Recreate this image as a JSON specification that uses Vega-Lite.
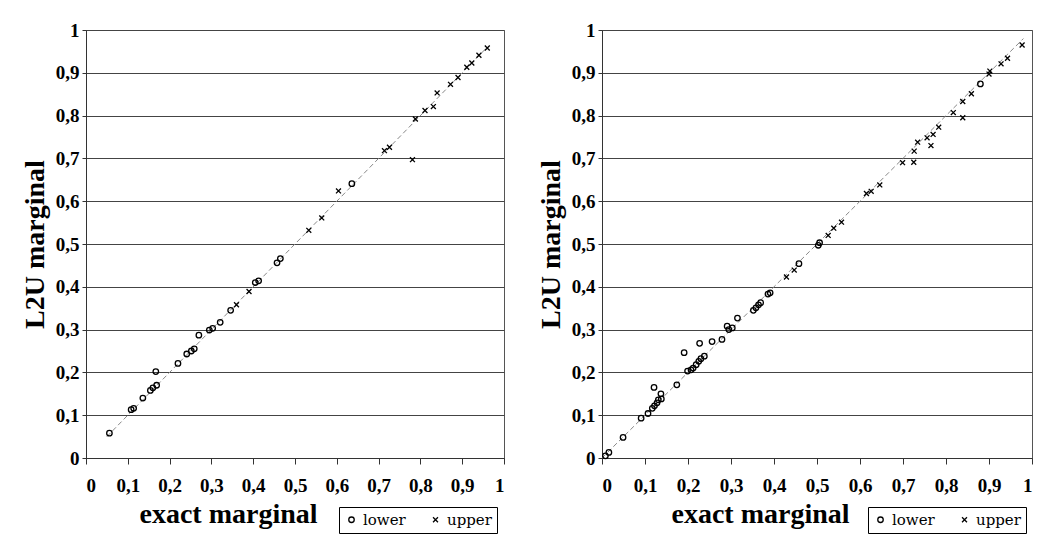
{
  "$schema": "https://vega.github.io/schema/vega-lite/v6.json",
  "background": "white",
  "padding": {"left": 20, "top": 20, "right": 2, "bottom": 2},
  "spacing": 98,
  "bounds": "flush",
  "datasets": {
    "pts": [
      {"p": "L", "x": 0.056, "y": 0.058, "b": "lower"},
      {"p": "L", "x": 0.108, "y": 0.113, "b": "lower"},
      {"p": "L", "x": 0.114, "y": 0.116, "b": "lower"},
      {"p": "L", "x": 0.136, "y": 0.140, "b": "lower"},
      {"p": "L", "x": 0.154, "y": 0.158, "b": "lower"},
      {"p": "L", "x": 0.160, "y": 0.164, "b": "lower"},
      {"p": "L", "x": 0.169, "y": 0.170, "b": "lower"},
      {"p": "L", "x": 0.167, "y": 0.202, "b": "lower"},
      {"p": "L", "x": 0.220, "y": 0.221, "b": "lower"},
      {"p": "L", "x": 0.241, "y": 0.243, "b": "lower"},
      {"p": "L", "x": 0.252, "y": 0.250, "b": "lower"},
      {"p": "L", "x": 0.259, "y": 0.255, "b": "lower"},
      {"p": "L", "x": 0.270, "y": 0.287, "b": "lower"},
      {"p": "L", "x": 0.295, "y": 0.299, "b": "lower"},
      {"p": "L", "x": 0.303, "y": 0.303, "b": "lower"},
      {"p": "L", "x": 0.321, "y": 0.317, "b": "lower"},
      {"p": "L", "x": 0.346, "y": 0.345, "b": "lower"},
      {"p": "L", "x": 0.405, "y": 0.410, "b": "lower"},
      {"p": "L", "x": 0.413, "y": 0.414, "b": "lower"},
      {"p": "L", "x": 0.457, "y": 0.456, "b": "lower"},
      {"p": "L", "x": 0.465, "y": 0.466, "b": "lower"},
      {"p": "L", "x": 0.636, "y": 0.641, "b": "lower"},
      {"p": "L", "x": 0.360, "y": 0.358, "b": "upper"},
      {"p": "L", "x": 0.390, "y": 0.389, "b": "upper"},
      {"p": "L", "x": 0.533, "y": 0.532, "b": "upper"},
      {"p": "L", "x": 0.564, "y": 0.561, "b": "upper"},
      {"p": "L", "x": 0.604, "y": 0.624, "b": "upper"},
      {"p": "L", "x": 0.714, "y": 0.718, "b": "upper"},
      {"p": "L", "x": 0.726, "y": 0.726, "b": "upper"},
      {"p": "L", "x": 0.781, "y": 0.697, "b": "upper"},
      {"p": "L", "x": 0.788, "y": 0.792, "b": "upper"},
      {"p": "L", "x": 0.811, "y": 0.812, "b": "upper"},
      {"p": "L", "x": 0.831, "y": 0.821, "b": "upper"},
      {"p": "L", "x": 0.840, "y": 0.853, "b": "upper"},
      {"p": "L", "x": 0.872, "y": 0.873, "b": "upper"},
      {"p": "L", "x": 0.890, "y": 0.889, "b": "upper"},
      {"p": "L", "x": 0.911, "y": 0.913, "b": "upper"},
      {"p": "L", "x": 0.923, "y": 0.923, "b": "upper"},
      {"p": "L", "x": 0.940, "y": 0.941, "b": "upper"},
      {"p": "L", "x": 0.960, "y": 0.958, "b": "upper"},
      {"p": "R", "x": 0.008, "y": 0.005, "b": "lower"},
      {"p": "R", "x": 0.016, "y": 0.013, "b": "lower"},
      {"p": "R", "x": 0.049, "y": 0.048, "b": "lower"},
      {"p": "R", "x": 0.091, "y": 0.093, "b": "lower"},
      {"p": "R", "x": 0.107, "y": 0.104, "b": "lower"},
      {"p": "R", "x": 0.117, "y": 0.116, "b": "lower"},
      {"p": "R", "x": 0.122, "y": 0.122, "b": "lower"},
      {"p": "R", "x": 0.128, "y": 0.129, "b": "lower"},
      {"p": "R", "x": 0.131, "y": 0.136, "b": "lower"},
      {"p": "R", "x": 0.138, "y": 0.138, "b": "lower"},
      {"p": "R", "x": 0.137, "y": 0.150, "b": "lower"},
      {"p": "R", "x": 0.121, "y": 0.165, "b": "lower"},
      {"p": "R", "x": 0.174, "y": 0.171, "b": "lower"},
      {"p": "R", "x": 0.191, "y": 0.246, "b": "lower"},
      {"p": "R", "x": 0.199, "y": 0.203, "b": "lower"},
      {"p": "R", "x": 0.207, "y": 0.206, "b": "lower"},
      {"p": "R", "x": 0.212, "y": 0.210, "b": "lower"},
      {"p": "R", "x": 0.219, "y": 0.218, "b": "lower"},
      {"p": "R", "x": 0.225, "y": 0.226, "b": "lower"},
      {"p": "R", "x": 0.230, "y": 0.232, "b": "lower"},
      {"p": "R", "x": 0.238, "y": 0.238, "b": "lower"},
      {"p": "R", "x": 0.227, "y": 0.268, "b": "lower"},
      {"p": "R", "x": 0.256, "y": 0.272, "b": "lower"},
      {"p": "R", "x": 0.279, "y": 0.277, "b": "lower"},
      {"p": "R", "x": 0.291, "y": 0.308, "b": "lower"},
      {"p": "R", "x": 0.295, "y": 0.300, "b": "lower"},
      {"p": "R", "x": 0.303, "y": 0.304, "b": "lower"},
      {"p": "R", "x": 0.315, "y": 0.327, "b": "lower"},
      {"p": "R", "x": 0.352, "y": 0.345, "b": "lower"},
      {"p": "R", "x": 0.358, "y": 0.351, "b": "lower"},
      {"p": "R", "x": 0.364, "y": 0.358, "b": "lower"},
      {"p": "R", "x": 0.369, "y": 0.363, "b": "lower"},
      {"p": "R", "x": 0.386, "y": 0.383, "b": "lower"},
      {"p": "R", "x": 0.391, "y": 0.386, "b": "lower"},
      {"p": "R", "x": 0.458, "y": 0.454, "b": "lower"},
      {"p": "R", "x": 0.503, "y": 0.497, "b": "lower"},
      {"p": "R", "x": 0.506, "y": 0.503, "b": "lower"},
      {"p": "R", "x": 0.880, "y": 0.874, "b": "lower"},
      {"p": "R", "x": 0.429, "y": 0.423, "b": "upper"},
      {"p": "R", "x": 0.447, "y": 0.439, "b": "upper"},
      {"p": "R", "x": 0.526, "y": 0.520, "b": "upper"},
      {"p": "R", "x": 0.539, "y": 0.537, "b": "upper"},
      {"p": "R", "x": 0.557, "y": 0.551, "b": "upper"},
      {"p": "R", "x": 0.615, "y": 0.618, "b": "upper"},
      {"p": "R", "x": 0.626, "y": 0.623, "b": "upper"},
      {"p": "R", "x": 0.646, "y": 0.638, "b": "upper"},
      {"p": "R", "x": 0.699, "y": 0.690, "b": "upper"},
      {"p": "R", "x": 0.725, "y": 0.691, "b": "upper"},
      {"p": "R", "x": 0.726, "y": 0.717, "b": "upper"},
      {"p": "R", "x": 0.734, "y": 0.738, "b": "upper"},
      {"p": "R", "x": 0.756, "y": 0.748, "b": "upper"},
      {"p": "R", "x": 0.765, "y": 0.730, "b": "upper"},
      {"p": "R", "x": 0.770, "y": 0.756, "b": "upper"},
      {"p": "R", "x": 0.783, "y": 0.773, "b": "upper"},
      {"p": "R", "x": 0.817, "y": 0.807, "b": "upper"},
      {"p": "R", "x": 0.839, "y": 0.795, "b": "upper"},
      {"p": "R", "x": 0.839, "y": 0.833, "b": "upper"},
      {"p": "R", "x": 0.859, "y": 0.851, "b": "upper"},
      {"p": "R", "x": 0.900, "y": 0.897, "b": "upper"},
      {"p": "R", "x": 0.902, "y": 0.904, "b": "upper"},
      {"p": "R", "x": 0.928, "y": 0.921, "b": "upper"},
      {"p": "R", "x": 0.943, "y": 0.934, "b": "upper"},
      {"p": "R", "x": 0.977, "y": 0.965, "b": "upper"}
    ],
    "diag": [
      {"p": "L", "x": 0.05, "y": 0.05},
      {"p": "L", "x": 0.96, "y": 0.96},
      {"p": "R", "x": 0.0, "y": 0.0},
      {"p": "R", "x": 0.98, "y": 0.98}
    ]
  },
  "config": {
    "font": "Liberation Serif",
    "view": {"stroke": "#555", "strokeWidth": 1},
    "axis": {
      "labelFont": "Liberation Serif",
      "labelFontSize": 19,
      "labelFontWeight": "bold",
      "labelColor": "black",
      "titleFont": "Liberation Serif",
      "titleFontWeight": "bold",
      "titleColor": "black",
      "domainColor": "#333",
      "tickColor": "#333",
      "gridColor": "#444",
      "gridOpacity": 1
    },
    "legend": {
      "labelFont": "DejaVu Serif",
      "labelFontSize": 15,
      "labelColor": "black",
      "strokeColor": "black",
      "padding": 5,
      "symbolSize": 30,
      "symbolStrokeColor": "black",
      "symbolStrokeWidth": 1.3,
      "columnPadding": 22,
      "cornerRadius": 0
    }
  },
  "resolve": {
    "scale": {"x": "independent", "y": "independent", "shape": "independent"},
    "legend": {"shape": "independent"},
    "axis": {"x": "independent", "y": "independent"}
  },
  "hconcat": [
    {
      "width": 418,
      "height": 428,
      "layer": [
        {
          "data": {"name": "diag"},
          "transform": [{"filter": "datum.p == 'L'"}],
          "mark": {"type": "line", "color": "#888", "strokeWidth": 1, "strokeDash": [5, 3]},
          "encoding": {
            "x": {"field": "x", "type": "quantitative"},
            "y": {"field": "y", "type": "quantitative"}
          }
        },
        {
          "data": {"name": "pts"},
          "transform": [{"filter": "datum.p == 'L'"}],
          "mark": {"type": "point", "filled": false, "color": "black", "strokeWidth": 1.3, "size": 30, "opacity": 1},
          "encoding": {
            "x": {
              "field": "x", "type": "quantitative",
              "scale": {"domain": [0, 1], "nice": false},
              "axis": {
                "values": [0, 0.1, 0.2, 0.3, 0.4, 0.5, 0.6, 0.7, 0.8, 0.9, 1],
                "grid": false, "tickSize": 6, "labelPadding": 12,
                "labelExpr": "datum.value == 0 ? '0' : datum.value == 1 ? '1' : replace(format(datum.value, '.1f'), '.', ',')",
                "title": "exact marginal", "titleFontSize": 28,
                "titleX": 142, "titleY": 42, "titleAlign": "center", "titleBaseline": "top"
              }
            },
            "y": {
              "field": "y", "type": "quantitative",
              "scale": {"domain": [0, 1], "nice": false},
              "axis": {
                "values": [0, 0.1, 0.2, 0.3, 0.4, 0.5, 0.6, 0.7, 0.8, 0.9, 1],
                "grid": true, "tickSize": 4, "labelPadding": 3,
                "labelExpr": "datum.value == 0 ? '0' : datum.value == 1 ? '1' : replace(format(datum.value, '.1f'), '.', ',')",
                "title": "L2U marginal", "titleFontSize": 28, "titlePadding": 6
              }
            },
            "shape": {
              "field": "b", "type": "nominal",
              "scale": {"domain": ["lower", "upper"], "range": ["circle", "M-0.9,-0.9L0.9,0.9M0.9,-0.9L-0.9,0.9"]},
              "legend": {"orient": "none", "legendX": 253, "legendY": 477, "direction": "horizontal", "title": null, "labelFont": "DejaVu Serif", "labelFontSize": 15}
            }
          }
        }
      ]
    },
    {
      "width": 430,
      "height": 428,
      "layer": [
        {
          "data": {"name": "diag"},
          "transform": [{"filter": "datum.p == 'R'"}],
          "mark": {"type": "line", "color": "#888", "strokeWidth": 1, "strokeDash": [5, 3]},
          "encoding": {
            "x": {"field": "x", "type": "quantitative"},
            "y": {"field": "y", "type": "quantitative"}
          }
        },
        {
          "data": {"name": "pts"},
          "transform": [{"filter": "datum.p == 'R'"}],
          "mark": {"type": "point", "filled": false, "color": "black", "strokeWidth": 1.3, "size": 30, "opacity": 1},
          "encoding": {
            "x": {
              "field": "x", "type": "quantitative",
              "scale": {"domain": [0, 1], "nice": false},
              "axis": {
                "values": [0, 0.1, 0.2, 0.3, 0.4, 0.5, 0.6, 0.7, 0.8, 0.9, 1],
                "grid": false, "tickSize": 6, "labelPadding": 12,
                "labelExpr": "datum.value == 0 ? '0' : datum.value == 1 ? '1' : replace(format(datum.value, '.1f'), '.', ',')",
                "title": "exact marginal", "titleFontSize": 28,
                "titleX": 158, "titleY": 42, "titleAlign": "center", "titleBaseline": "top"
              }
            },
            "y": {
              "field": "y", "type": "quantitative",
              "scale": {"domain": [0, 1], "nice": false},
              "axis": {
                "values": [0, 0.1, 0.2, 0.3, 0.4, 0.5, 0.6, 0.7, 0.8, 0.9, 1],
                "grid": true, "tickSize": 4, "labelPadding": 3,
                "labelExpr": "datum.value == 0 ? '0' : datum.value == 1 ? '1' : replace(format(datum.value, '.1f'), '.', ',')",
                "title": "L2U marginal", "titleFontSize": 28, "titlePadding": 6
              }
            },
            "shape": {
              "field": "b", "type": "nominal",
              "scale": {"domain": ["lower", "upper"], "range": ["circle", "M-0.9,-0.9L0.9,0.9M0.9,-0.9L-0.9,0.9"]},
              "legend": {"orient": "none", "legendX": 266, "legendY": 477, "direction": "horizontal", "title": null, "labelFont": "DejaVu Serif", "labelFontSize": 15}
            }
          }
        }
      ]
    }
  ]
}
